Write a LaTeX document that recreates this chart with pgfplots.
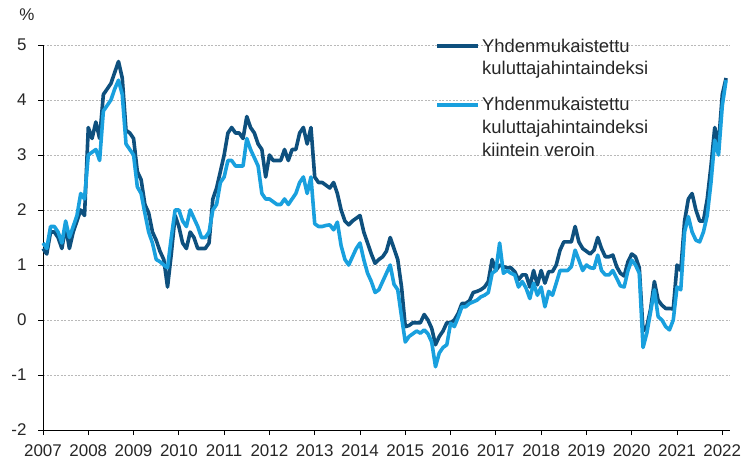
\documentclass[border=0pt]{standalone}
\usepackage{fontspec}
\setmainfont{Liberation Sans}
\usepackage{pgfplots}
\usepackage{pgfplotstable}
\pgfplotsset{compat=1.18}

\definecolor{hicpdark}{RGB}{14,80,126}
\definecolor{hicplight}{RGB}{25,160,222}
\definecolor{gridgray}{RGB}{185,185,185}

% monthly annual change, %: date, HICP, HICP at constant taxes
\pgfplotstableread{
x dark light
2007.000 1.3 1.4
2007.083 1.2 1.3
2007.167 1.6 1.7
2007.250 1.6 1.7
2007.333 1.5 1.6
2007.417 1.3 1.4
2007.500 1.7 1.8
2007.583 1.3 1.5
2007.667 1.6 1.7
2007.750 1.8 1.9
2007.833 2.0 2.3
2007.917 1.9 2.2
2008.000 3.5 3.0
2008.083 3.3 3.05
2008.167 3.6 3.1
2008.250 3.3 2.9
2008.333 4.1 3.8
2008.417 4.2 3.9
2008.500 4.3 4.0
2008.583 4.5 4.2
2008.667 4.7 4.36
2008.750 4.4 4.1
2008.833 3.45 3.2
2008.917 3.4 3.1
2009.000 3.3 3.0
2009.083 2.7 2.42
2009.167 2.55 2.3
2009.250 2.1 1.94
2009.333 1.95 1.6
2009.417 1.6 1.4
2009.500 1.45 1.1
2009.583 1.25 1.06
2009.667 1.1 1.0
2009.750 0.6 0.95
2009.833 1.2 1.5
2009.917 1.9 2.0
2010.000 1.7 2.0
2010.083 1.4 1.8
2010.167 1.3 1.7
2010.250 1.6 2.0
2010.333 1.5 1.85
2010.417 1.3 1.7
2010.500 1.3 1.5
2010.583 1.3 1.5
2010.667 1.4 1.6
2010.750 2.2 2.0
2010.833 2.4 2.1
2010.917 2.7 2.5
2011.000 3.0 2.6
2011.083 3.4 2.9
2011.167 3.5 2.9
2011.250 3.4 2.8
2011.333 3.4 2.8
2011.417 3.3 2.8
2011.500 3.7 3.3
2011.583 3.5 3.1
2011.667 3.4 2.95
2011.750 3.2 2.8
2011.833 3.1 2.3
2011.917 2.6 2.2
2012.000 3.0 2.2
2012.083 2.9 2.15
2012.167 2.9 2.1
2012.250 2.9 2.1
2012.333 3.1 2.2
2012.417 2.9 2.1
2012.500 3.1 2.2
2012.583 3.1 2.3
2012.667 3.4 2.5
2012.750 3.5 2.6
2012.833 3.2 2.3
2012.917 3.5 2.6
2013.000 2.6 1.75
2013.083 2.5 1.7
2013.167 2.5 1.7
2013.250 2.45 1.72
2013.333 2.4 1.73
2013.417 2.5 1.64
2013.500 2.3 1.78
2013.583 2.0 1.35
2013.667 1.8 1.1
2013.750 1.73 1.0
2013.833 1.8 1.15
2013.917 1.85 1.3
2014.000 1.9 1.4
2014.083 1.6 1.1
2014.167 1.4 0.85
2014.250 1.2 0.7
2014.333 1.03 0.5
2014.417 1.1 0.55
2014.500 1.15 0.7
2014.583 1.25 0.85
2014.667 1.5 1.0
2014.750 1.3 0.65
2014.833 1.1 0.55
2014.917 0.6 0.06
2015.000 -0.12 -0.4
2015.083 -0.1 -0.3
2015.167 -0.05 -0.25
2015.250 -0.05 -0.2
2015.333 -0.05 -0.24
2015.417 0.1 -0.18
2015.500 0.0 -0.25
2015.583 -0.15 -0.4
2015.667 -0.45 -0.85
2015.750 -0.3 -0.6
2015.833 -0.2 -0.5
2015.917 -0.05 -0.45
2016.000 -0.05 -0.06
2016.083 0.0 -0.12
2016.167 0.12 0.05
2016.250 0.3 0.24
2016.333 0.3 0.24
2016.417 0.35 0.3
2016.500 0.5 0.33
2016.583 0.52 0.36
2016.667 0.55 0.42
2016.750 0.6 0.45
2016.833 0.7 0.5
2016.917 1.1 0.85
2017.000 0.9 0.9
2017.083 1.0 1.4
2017.167 0.97 0.85
2017.250 0.95 0.9
2017.333 0.95 0.85
2017.417 0.88 0.82
2017.500 0.73 0.6
2017.583 0.82 0.7
2017.667 0.82 0.58
2017.750 0.6 0.39
2017.833 0.9 0.67
2017.917 0.64 0.45
2018.000 0.9 0.6
2018.083 0.67 0.24
2018.167 0.88 0.52
2018.250 0.88 0.45
2018.333 1.0 0.67
2018.417 1.27 0.9
2018.500 1.42 0.9
2018.583 1.42 0.9
2018.667 1.42 0.97
2018.750 1.7 1.27
2018.833 1.42 1.09
2018.917 1.3 0.9
2019.000 1.25 1.0
2019.083 1.2 0.95
2019.167 1.27 0.94
2019.250 1.5 1.18
2019.333 1.3 0.9
2019.417 1.15 0.82
2019.500 1.15 0.82
2019.583 1.18 0.9
2019.667 0.97 0.76
2019.750 0.85 0.62
2019.833 0.8 0.6
2019.917 1.06 0.9
2020.000 1.2 1.09
2020.083 1.15 1.0
2020.167 0.95 0.85
2020.250 -0.2 -0.5
2020.333 -0.12 -0.24
2020.417 0.2 0.15
2020.500 0.7 0.55
2020.583 0.36 0.06
2020.667 0.27 0.0
2020.750 0.21 -0.12
2020.833 0.21 -0.18
2020.917 0.2 0.0
2021.000 1.0 0.6
2021.083 0.9 0.55
2021.167 1.8 1.6
2021.250 2.2 1.88
2021.333 2.3 1.6
2021.417 2.0 1.45
2021.500 1.8 1.42
2021.583 1.8 1.6
2021.667 2.2 1.9
2021.750 2.8 2.5
2021.833 3.5 3.27
2021.917 3.2 3.0
2022.000 4.1 3.9
2022.083 4.4 4.36
}\hicpdata

\begin{document}
\begin{tikzpicture}
\useasboundingbox (-43bp,-37bp) rectangle (703bp,430bp);
\begin{axis}[
    at={(0,0)}, anchor=south west,
    scale only axis,
    width=687bp, height=385bp,
    xmin=2007, xmax=2022.17,
    ymin=-2, ymax=5,
    axis x line*=bottom, axis y line*=left,
    axis line style={-, black, line width=0.9bp},
    xtick={2007,...,2022},
    ytick={-2,-1,0,1,2,3,4,5},
    tick align=outside,
    major tick length=5bp,
    tick style={black, line width=0.8bp},
    xticklabel style={/pgf/number format/1000 sep={}, yshift=-6bp},
    yticklabel style={xshift=-8bp},
    tick label style={font=\fontsize{17}{20}\selectfont, text=black!85},
    /pgf/number format/assume math mode=true,
    ymajorgrids,
    grid style={gridgray, line width=0.8bp, dash pattern=on 2bp off 1.5bp},
    clip=false,
    legend style={draw=none, fill=none, at={(0.5706,1.022)}, anchor=north west,
        font=\fontsize{18.5}{23}\selectfont, text=black!85,
        cells={anchor=west, align=left}, row sep=17bp, inner sep=0pt},
    legend image code/.code={\draw[#1, line width=4bp] (0bp,0bp) -- (41bp,0bp);},
]
\addplot[hicpdark, line width=3.6bp, line join=round,
    legend image post style={yshift=11.5bp}] table[x=x, y=dark] {\hicpdata};
\addlegendentry{Yhdenmukaistettu\\kuluttajahintaindeksi}
\addplot[hicplight, line width=3.6bp, line join=round,
    legend image post style={yshift=23bp}] table[x=x, y=light] {\hicpdata};
\addlegendentry{Yhdenmukaistettu\\kuluttajahintaindeksi\\kiintein veroin}
\node[font=\fontsize{17}{20}\selectfont, text=black!85, xshift=-16bp, yshift=30bp] at (rel axis cs:0,1) {\%};
\end{axis}
\end{tikzpicture}
\end{document}
